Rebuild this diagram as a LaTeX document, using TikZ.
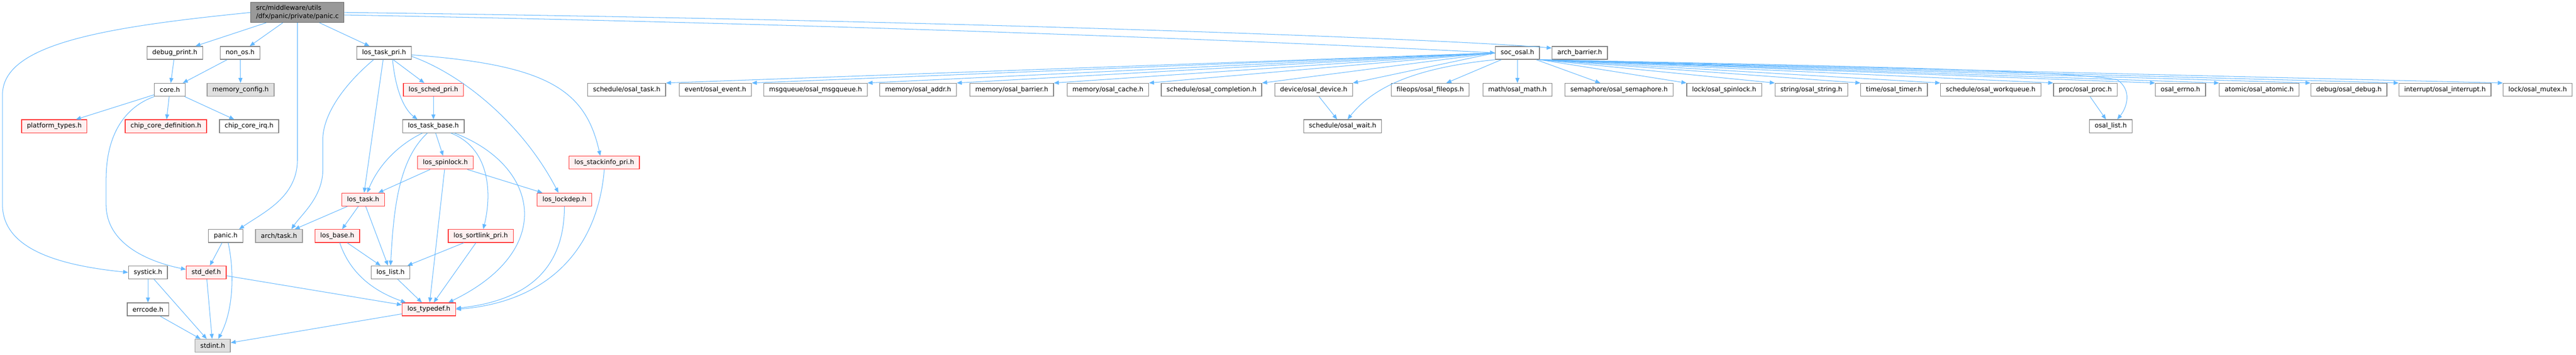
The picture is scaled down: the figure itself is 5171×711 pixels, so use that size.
\documentclass[tikz,border=0pt]{standalone}
\usepackage{fontspec}
\setmainfont{DejaVu Sans}
\usetikzlibrary{arrows.meta,calc}
\definecolor{edgec}{HTML}{63B8FF}
\definecolor{nb}{HTML}{7F7F7F}
\definecolor{redb}{HTML}{FF3333}
\definecolor{redf}{HTML}{FFF0F0}
\definecolor{grayf}{HTML}{E0E0E0}
\definecolor{grayb}{HTML}{999999}
\definecolor{mainf}{HTML}{999999}
\definecolor{mainb}{HTML}{666666}
\begin{document}
\begin{tikzpicture}[x=0.75pt,y=-0.75pt,
  nd/.style={draw=nb, fill=white, line width=1pt, minimum height=19.5pt, inner xsep=8pt, inner ysep=0pt,
             font=\fontsize{9.75}{12}\selectfont, anchor=center},
  rd/.style={nd, draw=redb, fill=redf},
  gd/.style={nd, draw=grayb, fill=grayf},
  ed/.style={draw=edgec, line width=0.8pt, -{Triangle[length=7.5pt,width=6pt]}}
]
\useasboundingbox (0,0) rectangle (5171,711);
\fill[white] (0,0) rectangle (5171,711);

% row 0
\node[nd, fill=mainf, draw=mainb, align=left, minimum height=30pt] (panic) at (597,25)
  {src/middleware/utils\\/dfx/panic/private/panic.c};
% row 1
\node[nd] (debug) at (351,106) {debug\_print.h};
\node[nd] (nonos) at (482,106) {non\_os.h};
\node[nd] (ltpri) at (771,106) {los\_task\_pri.h};
\node[nd] (soc) at (3046,106) {soc\_osal.h};
\node[nd] (archb) at (3171,106) {arch\_barrier.h};
% row 2
\node[nd] (core) at (341,180) {core.h};
\node[gd] (memcfg) at (483,180) {memory\_config.h};
\node[rd] (sched) at (870,180) {los\_sched\_pri.h};
\node[nd] (o_task) at (1258,180) {schedule/osal\_task.h};
\node[nd] (o_event) at (1436,180) {event/osal\_event.h};
\node[nd] (o_msgq) at (1637,180) {msgqueue/osal\_msgqueue.h};
\node[nd] (o_addr) at (1843,180) {memory/osal\_addr.h};
\node[nd] (o_barrier) at (2031,180) {memory/osal\_barrier.h};
\node[nd] (o_cache) at (2224,180) {memory/osal\_cache.h};
\node[nd] (o_compl) at (2432,180) {schedule/osal\_completion.h};
\node[nd] (o_device) at (2637,180) {device/osal\_device.h};
\node[nd] (o_fileops) at (2871,180) {fileops/osal\_fileops.h};
\node[nd] (o_math) at (3046,180) {math/osal\_math.h};
\node[nd] (o_sem) at (3250,180) {semaphore/osal\_semaphore.h};
\node[nd] (o_spin) at (3461,180) {lock/osal\_spinlock.h};
\node[nd] (o_string) at (3636,180) {string/osal\_string.h};
\node[nd] (o_timer) at (3802,180) {time/osal\_timer.h};
\node[nd] (o_wq) at (3996,180) {schedule/osal\_workqueue.h};
\node[nd] (o_proc) at (4186,180) {proc/osal\_proc.h};
\node[nd] (o_errno) at (4377,180) {osal\_errno.h};
\node[nd] (o_atomic) at (4535,180) {atomic/osal\_atomic.h};
\node[nd] (o_debug) at (4715,180) {debug/osal\_debug.h};
\node[nd] (o_intr) at (4908,180) {interrupt/osal\_interrupt.h};
\node[nd] (o_mutex) at (5094,180) {lock/osal\_mutex.h};
% row 3
\node[rd] (ptypes) at (109,253) {platform\_types.h};
\node[rd] (ccdef) at (333,253) {chip\_core\_definition.h};
\node[nd] (ccirq) at (500,253) {chip\_core\_irq.h};
\node[nd] (tbase) at (870,253) {los\_task\_base.h};
\node[nd] (o_wait) at (2695,253) {schedule/osal\_wait.h};
\node[nd] (o_list) at (4237,253) {osal\_list.h};
% row 4
\node[rd] (spin) at (894,326) {los\_spinlock.h};
\node[rd] (stackinfo) at (1213,326) {los\_stackinfo\_pri.h};
% row 5
\node[rd] (ltask) at (729,400) {los\_task.h};
\node[rd] (lockdep) at (1133,400) {los\_lockdep.h};
% row 6
\node[nd] (panich) at (453,473) {panic.h};
\node[gd] (archtask) at (560,473) {arch/task.h};
\node[rd] (losbase) at (677,473) {los\_base.h};
\node[rd] (sortlink) at (965,473) {los\_sortlink\_pri.h};
% row 7
\node[nd] (systick) at (297,546) {systick.h};
\node[rd] (stddef) at (414,546) {std\_def.h};
\node[nd] (loslist) at (784,546) {los\_list.h};
% row 8
\node[nd] (errcode) at (297,620) {errcode.h};
\node[rd] (typedef) at (861,620) {los\_typedef.h};
% row 9
\node[gd] (stdint) at (427,693) {stdint.h};

% edges from panic.c
\draw[ed] (panic) -- (debug);
\draw[ed] (panic) -- (nonos);
\draw[ed] (panic) -- (ltpri);
\draw[ed] ($(panic.east)+(0,5)$) .. controls (1800,50) and (2700,90) .. (soc.west);
\draw[ed] (panic.east) .. controls (1900,40) and (2900,78) .. ($(archb.north west)+(0,4)$);
\draw[ed] (panic.south) -- (597,320) .. controls (597,395) and (530,425) .. ($(panich.north)+(27,0)$);
\draw[ed] (panic.west) .. controls (200,55) and (5,90) .. (5,190) -- (5,410) .. controls (5,500) and (120,532) .. (systick.west);

% core group
\draw[ed] (debug) -- (core);
\draw[ed] (nonos) -- (core);
\draw[ed] (nonos) -- (memcfg);
\draw[ed] (core) -- (ptypes);
\draw[ed] (core) -- (ccdef);
\draw[ed] (core) -- (ccirq);
\draw[ed] (core.south west) .. controls (250,215) and (213,270) .. (213,360) -- (213,410) .. controls (213,490) and (300,525) .. ($(stddef.west)+(0,-6)$);

% los_task_pri group
\draw[ed] (ltpri) -- (sched);
\draw[ed] ($(ltpri.south)+(17,0)$) .. controls (795,190) and (815,222) .. ($(tbase.north)+(-32,0)$);
\draw[ed] (ltpri) -- (ltask);
\draw[ed] ($(ltpri.south)+(-21,0)$) .. controls (690,170) and (648,230) .. (648,280) -- (648,340) .. controls (648,395) and (605,430) .. ($(archtask.north)+(25,0)$);
\draw[ed] ($(ltpri.east)+(0,7)$) .. controls (930,150) and (1050,250) .. ($(lockdep.north)+(-12,0)$);
\draw[ed] ($(ltpri.east)+(0,4)$) .. controls (1100,130) and (1175,180) .. ($(stackinfo.north)+(-8,0)$);
\draw[ed] (sched) -- (tbase);

% los_task_base group
\draw[ed] (tbase) -- (spin);
\draw[ed] ($(tbase.south)+(-22,0)$) .. controls (800,290) and (760,330) .. ($(ltask.north)+(8,0)$);
\draw[ed] ($(tbase.south)+(-12,0)$) .. controls (800,320) and (790,420) .. (loslist.north);
\draw[ed] ($(tbase.south)+(35,0)$) .. controls (990,300) and (985,400) .. ($(sortlink.north)+(5,0)$);
\draw[ed] ($(tbase.south)+(42,0)$) .. controls (1080,330) and (1120,500) .. ($(typedef.north)+(39,0)$);

% spinlock etc
\draw[ed] (spin) -- (ltask);
\draw[ed] (spin) -- (typedef);
\draw[ed] (spin) -- (lockdep);
\draw[ed] (lockdep.south) .. controls (1133,520) and (1080,600) .. ($(typedef.east)+(0,-2)$);
\draw[ed] (stackinfo.south) .. controls (1200,500) and (1100,605) .. (typedef.east);
\draw[ed] (sortlink) -- (loslist);
\draw[ed] (sortlink) -- (typedef);
\draw[ed] (ltask) -- (archtask);
\draw[ed] (ltask) -- (losbase);
\draw[ed] (ltask) -- (loslist);
\draw[ed] (losbase) -- (loslist);
\draw[ed] ($(losbase.south)+(5,0)$) .. controls (700,540) and (740,580) .. ($(typedef.north west)+(8,0)$);
\draw[ed] (loslist) -- (typedef);
\draw[ed] (stddef) -- (typedef);
\draw[ed] (typedef) -- (stdint);

% bottom left
\draw[ed] (panich) -- (stddef);
\draw[ed] ($(panich.south)+(5,0)$) .. controls (470,540) and (470,620) .. ($(stdint.north)+(11,0)$);
\draw[ed] (stddef) -- (stdint);
\draw[ed] (systick) -- (errcode);
\draw[ed] (systick) -- (stdint);
\draw[ed] (errcode) -- (stdint);

% soc_osal fan
\foreach \t in {o_task,o_event,o_msgq,o_addr,o_barrier,o_cache,o_compl,o_device}
  \draw[ed] (soc.west) -- (\t.north east);
\draw[ed] (soc) -- (o_fileops);
\draw[ed] (soc) -- (o_math);
\draw[ed] (soc) -- (o_sem);
\foreach \t in {o_spin,o_string,o_timer,o_wq,o_proc,o_errno,o_atomic,o_debug,o_intr,o_mutex}
  \draw[ed] (soc.south east) -- (\t.north west);
\draw[ed] (soc.south west) .. controls (2850,135) and (2760,170) .. ($(o_wait.north)+(10,0)$);
\draw[ed] (o_device) -- (o_wait);
\draw[ed] (soc.south east) .. controls (3600,130) and (4150,140) .. (4250,160) .. controls (4280,180) and (4270,215) .. ($(o_list.north)+(13,0)$);
\draw[ed] (o_proc) -- (o_list);
\end{tikzpicture}
\end{document}
